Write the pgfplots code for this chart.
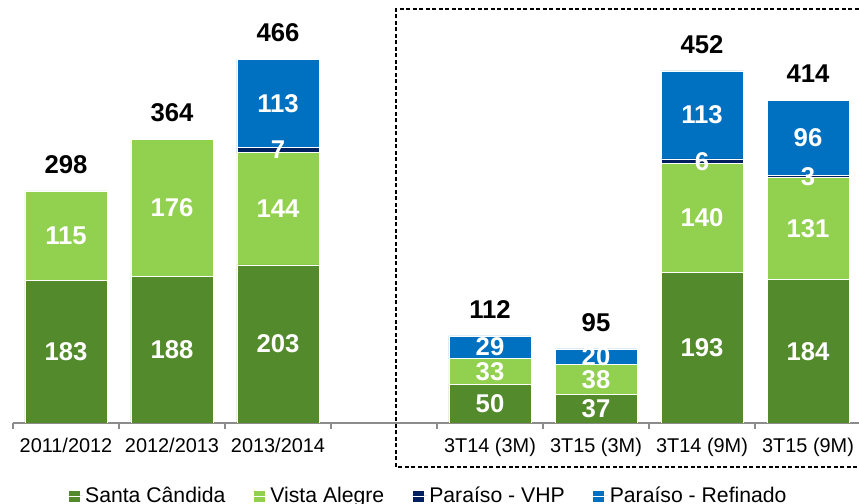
\documentclass[border=0pt]{standalone}
\usepackage{pgfplots}
\usepackage{pgfplotstable}
\pgfplotsset{compat=1.18}
\usepackage{fontspec}
\setmainfont{Liberation Sans}
\definecolor{sc}{HTML}{538A2B}
\definecolor{va}{HTML}{92D050}
\definecolor{vhp}{HTML}{002060}
\definecolor{ref}{HTML}{0070C0}
\definecolor{axgray}{HTML}{8C8C8C}

\pgfplotstableread{
x sc va vhp ref
0 183 115 0 0
1 188 176 0 0
2 203 144 7 113
4 50 33 0 29
5 37 38 0 20
6 193 140 6 113
7 184 131 3 96
}\bardata

\pgfplotstableread{
x y lab
0 91.5 183
0 240.5 115
1 94 188
1 276 176
2 101.5 203
2 275 144
2 350.5 7
2 410.5 113
4 25 50
4 66.5 33
4 97.5 29
5 18.5 37
5 56 38
5 85 20
6 96.5 193
6 263 140
6 336 6
6 395.5 113
7 92 184
7 249.5 131
7 316.5 3
7 366 96
}\innerlabels

\pgfplotstableread{
x y lab
0 332 298
1 398 364
2 501 466
4 146 112
5 129 95
6 486 452
7 448 414
}\totlabels

\pgfplotsset{common/.style={at={(13bp,81bp)}, anchor=south west, scale only axis,
  width=845.9bp, height=423bp, xmin=-0.5, xmax=7.48, ymin=0, ymax=543, enlargelimits=false}}

\begin{document}
\begin{tikzpicture}
\path[use as bounding box] (0,0) rectangle (859bp,504bp);
\begin{axis}[
  common,
  ybar stacked, bar width=0.774,
  axis x line*=bottom, axis y line=none,
  axis line style={-, draw=axgray, line width=1.6bp},
  xtick={0,1,2,4,5,6,7},
  xticklabels={2011/2012,2012/2013,2013/2014,3T14 (3M),3T15 (3M),3T14 (9M),3T15 (9M)},
  major tick length=0pt,
  minor xtick={-0.5,0.5,...,6.5},
  minor tick length=6bp,
  tick align=outside,
  minor tick style={draw=axgray, line width=1.6bp},
  xticklabel style={font=\fontsize{19.9bp}{22bp}\selectfont, yshift=-12bp},
  legend image code/.code={\fill[#1] (0bp,-6bp) rectangle (12bp,6bp); \path (0bp,0bp) -- (15bp,0bp);},
  legend style={at={(0.4907,-0.172)}, anchor=center, draw=none, fill=none,
    legend columns=4, font=\fontsize{21.2bp}{24bp}\selectfont,
    /tikz/every even column/.append style={column sep=25.5bp},
    nodes={inner xsep=2bp, inner ysep=1bp}},
]
\addplot[fill=sc, draw=white, line width=0.5bp] table[x=x,y=sc]{\bardata};
\addplot[fill=va, draw=white, line width=0.5bp] table[x=x,y=va]{\bardata};
\addplot[fill=vhp, draw=white, line width=0.5bp] table[x=x,y=vhp]{\bardata};
\addplot[fill=ref, draw=white, line width=0.5bp] table[x=x,y=ref]{\bardata};
\legend{Santa Cândida, Vista Alegre, Paraíso - VHP, Paraíso - Refinado}
\end{axis}
\begin{axis}[common, hide axis, clip=false]
\addplot[draw=none, nodes near coords, point meta=explicit symbolic,
  nodes near coords style={font=\fontsize{25.7bp}{30bp}\selectfont\bfseries, text=white, anchor=center}]
  table[x=x,y=y,meta=lab]{\innerlabels};
\addplot[draw=none, nodes near coords, point meta=explicit symbolic,
  nodes near coords style={font=\fontsize{25.7bp}{30bp}\selectfont\bfseries, text=black, anchor=center}]
  table[x=x,y=y,meta=lab]{\totlabels};
\end{axis}
\draw[line width=1.3bp, dash pattern=on 4bp off 2.5bp] (396bp,37bp) rectangle (864bp,495bp);
\end{tikzpicture}
\end{document}
